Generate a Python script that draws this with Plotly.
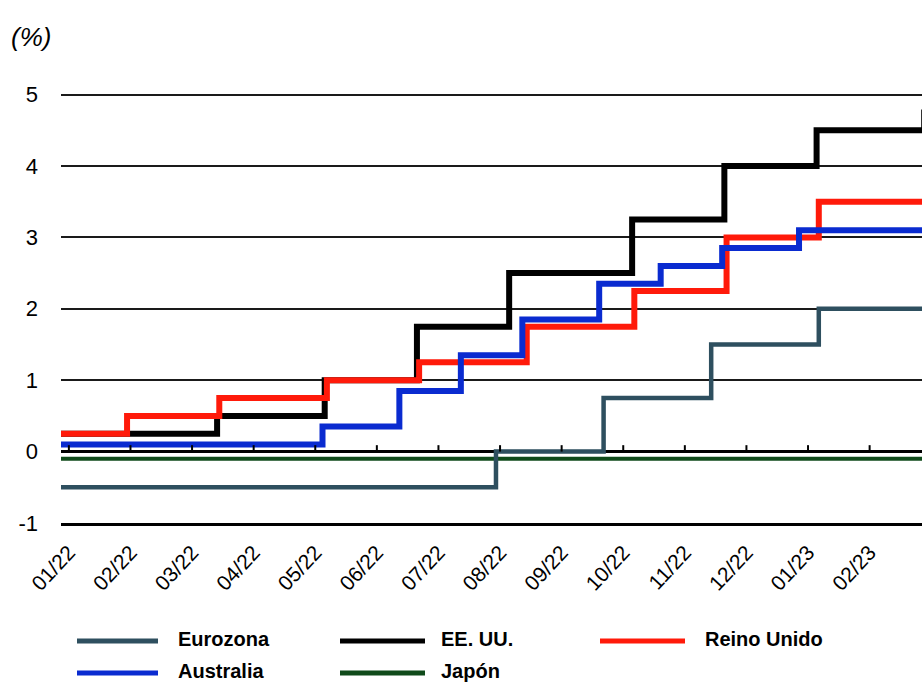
import plotly.graph_objects as go
import pandas as pd

# ---------------- data ----------------
series_names = ["Eurozona", "EE. UU.", "Reino Unido", "Australia", "Japón"]
series_colors = ["#2e4f5f", "#000000", "#ff1a0a", "#0a2bd0", "#0f4a1a"]

euro_dates = ["2022-01-01", "2022-07-21", "2022-09-08", "2022-10-27", "2022-12-15", "2023-02-28"]
euro_vals = [-0.5, 0.0, 0.75, 1.5, 2.0, 2.0]

us_dates = ["2022-01-01", "2022-03-16", "2022-05-04", "2022-06-15", "2022-07-27",
            "2022-09-21", "2022-11-02", "2022-12-14", "2023-02-01", "2023-02-28"]
us_vals = [0.25, 0.5, 1.0, 1.75, 2.5, 3.25, 4.0, 4.5, 4.75, 4.75]

uk_dates = ["2022-01-01", "2022-02-03", "2022-03-17", "2022-05-05", "2022-06-16",
            "2022-08-04", "2022-09-22", "2022-11-03", "2022-12-15", "2023-02-28"]
uk_vals = [0.25, 0.5, 0.75, 1.0, 1.25, 1.75, 2.25, 3.0, 3.5, 3.5]

au_dates = ["2022-01-01", "2022-05-03", "2022-06-07", "2022-07-05", "2022-08-02",
            "2022-09-06", "2022-10-04", "2022-11-01", "2022-12-06", "2023-02-28"]
au_vals = [0.1, 0.35, 0.85, 1.35, 1.85, 2.35, 2.6, 2.85, 3.1, 3.1]

jp_dates = ["2022-01-01", "2023-02-28"]
jp_vals = [-0.1, -0.1]

tick_labels = ["01/22", "02/22", "03/22", "04/22", "05/22", "06/22", "07/22",
               "08/22", "09/22", "10/22", "11/22", "12/22", "01/23", "02/23"]
y_ticks = [-1, 0, 1, 2, 3, 4, 5]

# evenly spaced category-style ticks as in the original
tick_start = pd.Timestamp("2022-01-07 12:00")
tick_step = pd.Timedelta(days=28.05)
tick_vals = [tick_start + i * tick_step for i in range(len(tick_labels))]

# ---------------- figure ----------------
fig = go.Figure()

data = {
    "Eurozona": (euro_dates, euro_vals, 4.5),
    "EE. UU.": (us_dates, us_vals, 6),
    "Reino Unido": (uk_dates, uk_vals, 6),
    "Australia": (au_dates, au_vals, 6),
    "Japón": (jp_dates, jp_vals, 4),
}
draw_order = ["Japón", "Eurozona", "EE. UU.", "Reino Unido", "Australia"]
color_of = dict(zip(series_names, series_colors))

for name in draw_order:
    d, v, w = data[name]
    fig.add_trace(go.Scatter(
        x=pd.to_datetime(d), y=v, mode="lines", name=name,
        line=dict(color=color_of[name], width=w, shape="hv"),
        showlegend=False,
    ))

FONT = "Liberation Sans, Arial, sans-serif"

# tick marks on the zero line
for tv in tick_vals:
    fig.add_shape(type="line", xref="x", yref="y", x0=tv, x1=tv, y0=0, y1=0.09,
                  line=dict(color="#000000", width=2))

# custom legend (long line samples)
L, W, B, H = 61, 861, 523, 457
def px(x):
    return (x - L) / W
def py(y):
    return (B - y) / H

legend_slots = [
    (77, 158, 176, 640),
    (340, 425, 439, 640),
    (600, 685, 703, 640),
    (77, 158, 176, 672),
    (340, 425, 439, 672),
]
for name, (lx0, lx1, tx, ly) in zip(series_names, legend_slots):
    fig.add_shape(type="line", xref="paper", yref="paper",
                  x0=px(lx0), x1=px(lx1), y0=py(ly + 1), y1=py(ly + 1),
                  line=dict(color=color_of[name], width=5))
    fig.add_annotation(x=px(tx), y=py(ly - 1), xref="paper", yref="paper",
                       text="<b>" + name + "</b>", showarrow=False,
                       xanchor="left", yanchor="middle",
                       font=dict(family=FONT, size=20, color="#000000"))

fig.add_annotation(x=px(9), y=py(37), xref="paper", yref="paper", text="<i>(%)</i>",
                   showarrow=False, xanchor="left", yanchor="middle",
                   font=dict(family=FONT, size=26, color="#000000"))

fig.update_layout(
    width=922, height=684,
    margin=dict(l=61, r=0, t=66, b=161),
    paper_bgcolor="white", plot_bgcolor="white",
    showlegend=False,
    font=dict(family=FONT, color="#000000"),
    xaxis=dict(
        type="date",
        range=["2022-01-03 22:00", "2023-01-31 00:00"],
        tickvals=tick_vals, ticktext=tick_labels,
        tickangle=-47, tickfont=dict(size=21, family=FONT, color="#000000"),
        showgrid=False, zeroline=False,
        showline=True, linecolor="#000000", linewidth=2.5,
        ticks="", ticklabelstandoff=6,
    ),
    yaxis=dict(
        range=[-1, 5.4],
        tickvals=y_ticks, ticktext=[str(t) for t in y_ticks],
        tickfont=dict(size=22, family=FONT, color="#000000"),
        showgrid=True, gridcolor="#1a1a1a", gridwidth=1.6,
        zeroline=True, zerolinecolor="#000000", zerolinewidth=2.5,
        showline=False, ticks="", ticklabelstandoff=22,
    ),
)

fig.write_html("out.html")
